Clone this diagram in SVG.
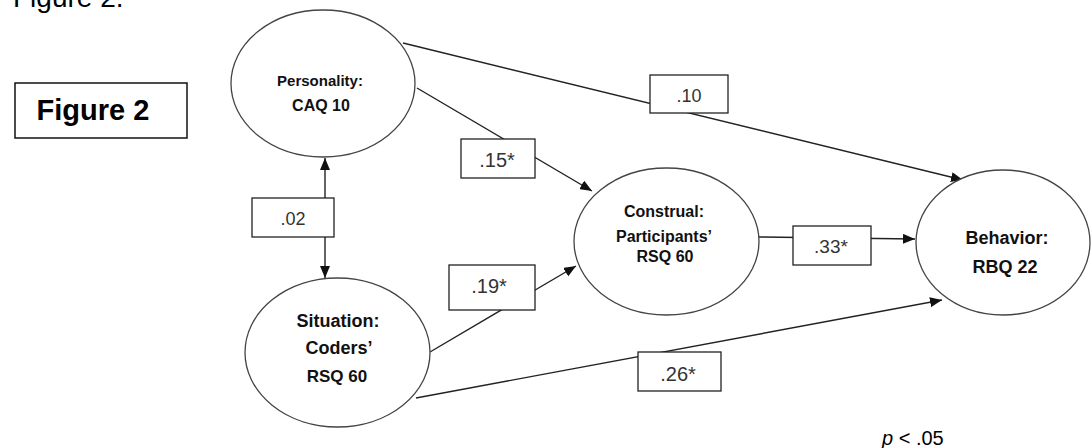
<svg xmlns="http://www.w3.org/2000/svg" width="1091" height="448" viewBox="0 0 1091 448">
<style>
.bg{fill:#fff}
.node{fill:#fff;stroke:#444;stroke-width:1.3}
.nt{font-family:"Liberation Sans",Arial,sans-serif;font-weight:bold;fill:#111;text-anchor:middle}
.edge{stroke:#222;stroke-width:1.4;fill:none}
.lbox{fill:#fff;stroke:#222;stroke-width:1.3}
.lt{font-family:"Liberation Sans",Arial,sans-serif;fill:#333;text-anchor:middle}
.title{font-family:"Liberation Sans",Arial,sans-serif;fill:#000}
</style>
<defs>
<marker id="ah" markerUnits="userSpaceOnUse" markerWidth="12" markerHeight="10" viewBox="0 0 12 10" refX="12" refY="5" orient="auto-start-reverse">
<path d="M0,0 L12,5 L0,10 z" fill="#111"/>
</marker>
</defs>
<rect class="bg" x="0" y="0" width="1091" height="448"/>
<text class="title" x="13" y="7" font-size="28">Figure 2.</text>
<g id="figlabel">
<rect x="15" y="83" width="172" height="55" fill="#fff" stroke="#111" stroke-width="1.5"/>
<text class="title" x="93" y="120" font-size="29" font-weight="bold" text-anchor="middle">Figure 2</text>
</g>
<g id="connectors">
<line class="edge" x1="403" y1="43" x2="963" y2="180" marker-end="url(#ah)"/>
<line class="edge" x1="417" y1="88" x2="592" y2="191" marker-end="url(#ah)"/>
<line class="edge" x1="325" y1="158" x2="325" y2="278" marker-start="url(#ah)" marker-end="url(#ah)"/>
<line class="edge" x1="430" y1="352" x2="576" y2="266" marker-end="url(#ah)"/>
<line class="edge" x1="759" y1="237" x2="915" y2="239" marker-end="url(#ah)"/>
<line class="edge" x1="416" y1="398" x2="942" y2="300" marker-end="url(#ah)"/>
<g id="lbl-10"><rect class="lbox" x="650" y="75" width="78" height="38"/><text class="lt" x="689" y="102" font-size="18">.10</text></g>
<g id="lbl-15"><rect class="lbox" x="461" y="139" width="74" height="39"/><text class="lt" x="497" y="167" font-size="20">.15*</text></g>
<g id="lbl-02"><rect class="lbox" x="252" y="198" width="82" height="39"/><text class="lt" x="293" y="225" font-size="18">.02</text></g>
<g id="lbl-19"><rect class="lbox" x="449" y="265" width="86" height="45"/><text class="lt" x="489" y="293" font-size="20">.19*</text></g>
<g id="lbl-33"><rect class="lbox" x="793" y="226" width="78" height="39"/><text class="lt" x="831" y="253" font-size="19">.33*</text></g>
<g id="lbl-26"><rect class="lbox" x="638" y="352" width="83" height="39"/><text class="lt" x="678" y="381" font-size="20">.26*</text></g>
</g>
<g id="personality">
<ellipse class="node" cx="323" cy="83.5" rx="92" ry="73.5"/>
<text class="nt" x="320" y="86" font-size="15">Personality:</text>
<text class="nt" x="321" y="111" font-size="16">CAQ 10</text>
</g>
<g id="situation">
<ellipse class="node" cx="337.5" cy="352.5" rx="92.5" ry="74.5"/>
<text class="nt" x="338" y="327" font-size="18">Situation:</text>
<text class="nt" x="339" y="354" font-size="18">Coders’</text>
<text class="nt" x="337" y="382" font-size="17">RSQ 60</text>
</g>
<g id="construal">
<ellipse class="node" cx="666.5" cy="241.5" rx="92.5" ry="73.5"/>
<text class="nt" x="664" y="217" font-size="16">Construal:</text>
<text class="nt" x="664" y="242" font-size="16">Participants’</text>
<text class="nt" x="665" y="262" font-size="16">RSQ 60</text>
</g>
<g id="behavior">
<ellipse class="node" cx="1003" cy="242.5" rx="87" ry="72.5"/>
<text class="nt" x="1007" y="244" font-size="18">Behavior:</text>
<text class="nt" x="1005" y="273" font-size="18">RBQ 22</text>
</g>
<text class="title" x="882" y="445" font-size="20"><tspan font-style="italic">p</tspan> &lt; .05</text>
</svg>
